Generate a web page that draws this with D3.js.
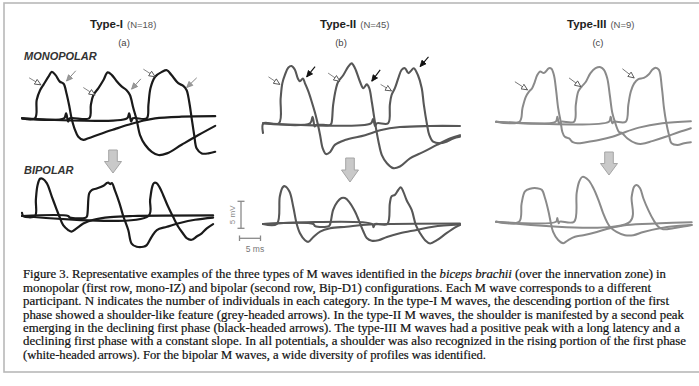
<!DOCTYPE html>
<html>
<head>
<meta charset="utf-8">
<script src="https://cdn.jsdelivr.net/npm/d3@7"></script>
<style>
  html, body { margin: 0; padding: 0; background: #fff; }
  svg { display: block; }
</style>
</head>
<body>
<div id="chart"></div>
<script>
// sweeps: [time ms, amplitude mV]
const typeIMono1 = [[0,0],[3.1,0],[3.5,3.4],[4.3,5.2],[5.1,6.2],[6.3,7.7],[7.1,8.6],[8.0,8.0],[9.0,6.8],[9.9,6.4],[10.6,4.6],[11.3,2.1],[11.8,0],[12.5,-1.9],[13.4,-3.4],[14.6,-4.0],[15.8,-3.7],[19.0,-2.8],[22.1,-2.0],[25.3,-1.2],[28.5,-0.5],[31.7,0],[38.0,0.3],[46.0,0.4]];
const typeIMono2 = [[0,0],[10.0,0],[10.5,0.9],[11.0,-0.6],[11.4,0],[16.0,0],[16.4,2.5],[17.0,4.3],[18.2,5.6],[19.4,7.1],[20.4,8.5],[21.4,8.0],[22.5,6.9],[23.7,5.9],[24.9,5.2],[25.7,4.3],[26.5,1.9],[27.3,-0.3],[28.1,-3.1],[29.3,-4.9],[30.9,-6.2],[32.5,-6.8],[34.5,-6.5],[38.0,-4.9],[42.0,-3.1],[46.0,-1.4]];
const typeIMono3 = [[0,0],[25.0,0],[25.5,0.9],[26.0,-0.6],[26.4,0],[29.7,0],[30.1,2.5],[30.6,5.6],[31.7,7.7],[33.3,8.6],[34.5,8.9],[35.6,8.0],[37.2,6.5],[38.4,6.0],[39.2,5.2],[39.8,3.1],[40.4,0],[41.0,-3.1],[41.6,-5.6],[42.8,-6.5],[44.4,-6.5],[46.0,-6.2]];
const typeIBip1 = [[0,0.6],[0.3,0],[3.1,0],[3.3,3.0],[3.7,5.7],[4.3,6.9],[4.9,6.9],[5.9,6.1],[7.1,3.6],[8.3,1.1],[8.9,-0.1],[9.8,-1.7],[11.0,-2.6],[11.8,-2.9],[13.0,-2.3],[14.6,-1.4],[17.0,-0.7],[21.0,-0.2],[26.4,0],[45.5,0.1]];
const typeIBip2 = [[0,0],[11.0,0],[11.4,-0.3],[15.2,-0.3],[15.5,0],[16.0,4.2],[16.6,4.8],[17.8,5.1],[19.4,5.6],[20.2,6.1],[20.5,6.2],[21.0,5.9],[21.4,6.1],[22.1,4.8],[23.2,2.4],[24.1,0],[25.3,-2.6],[26.1,-5.1],[27.3,-5.7],[28.9,-5.7],[29.7,-5.4],[30.9,-3.8],[32.1,-2.6],[34.5,-2.0],[37.6,-1.3],[41.2,-0.7],[45.5,-0.3]];
const typeIBip3 = [[0,0],[30.1,0],[30.5,3.0],[31.0,5.4],[31.4,6.1],[32.0,6.1],[32.7,5.4],[33.6,3.9],[34.8,1.7],[36.0,-0.2],[37.2,-2.0],[38.3,-3.2],[39.2,-4.1],[40.4,-4.4],[41.6,-3.8],[42.8,-3.2],[44.0,-2.3],[45.5,-1.5]];

const typeIIMono1 = [[0,-1.8],[0.1,0],[3.8,0],[4.2,4.6],[4.6,7.4],[5.2,8.9],[6.0,10.3],[6.8,10.6],[7.6,9.9],[8.3,8.3],[8.8,7.8],[9.5,8.3],[10.0,7.4],[10.8,5.9],[11.6,4.0],[12.4,1.9],[13.0,0],[13.6,-2.2],[14.2,-4.6],[15.0,-5.7],[16.0,-5.3],[17.1,-4.0],[19.5,-3.1],[24.3,-2.2],[27.9,-1.3],[32.6,-0.7],[39.8,-0.5],[46.9,-0.5]];
const typeIIMono2 = [[0,0],[11.2,0],[11.8,1.2],[12.3,-0.6],[12.6,-0.3],[16.0,-0.3],[16.3,0],[16.7,3.4],[17.4,6.5],[17.9,7.7],[19.1,8.9],[20.3,10.5],[21.1,11.1],[21.9,10.2],[23.1,7.7],[23.9,6.5],[24.7,7.2],[25.3,6.5],[25.9,4.0],[26.7,0],[27.5,-3.4],[28.3,-5.9],[29.5,-7.4],[31.0,-8.3],[32.6,-8.0],[35.0,-6.5],[38.2,-5.3],[41.4,-4.0],[44.5,-2.8],[46.9,-2.2]];
const typeIIMono3 = [[0,0],[25.7,0],[26.2,0.8],[26.7,-0.5],[27.1,0],[29.8,0],[30.2,3.4],[30.6,5.2],[31.4,6.5],[32.2,8.3],[33.0,9.9],[33.8,10.2],[34.6,9.3],[35.2,9.7],[35.9,10.2],[36.9,8.9],[37.8,6.5],[38.3,3.4],[39.0,0],[39.6,-2.2],[40.5,-3.4],[42.1,-3.7],[43.7,-3.4],[45.3,-2.8],[46.9,-2.5]];
const typeIIBip1 = [[0,0],[3.3,0],[4.0,5.1],[4.7,6.8],[5.2,7.0],[6.3,6.0],[7.2,3.2],[8.0,0.1],[8.8,-1.7],[10.0,-3.0],[10.8,-3.3],[12.0,-2.4],[13.6,-1.4],[16.0,-0.8],[19.9,-0.5],[25.5,-0.1],[46.9,0.1]];
const typeIIBip2 = [[0,0],[12.0,0],[12.4,-0.4],[15.7,-0.4],[16.0,0],[16.7,2.6],[17.7,4.1],[18.7,4.8],[19.5,4.8],[20.5,4.1],[21.9,2.3],[23.1,0.1],[23.9,-1.4],[24.7,-2.6],[25.9,-3.1],[27.5,-3.0],[29.5,-2.4],[32.6,-1.7],[36.6,-1.1],[40.5,-0.5],[46.9,-0.1]];
const typeIIBip3 = [[0,0],[26.0,0],[26.3,-0.6],[26.7,0],[29.6,0],[30.2,3.8],[30.6,5.1],[31.4,5.4],[32.2,6.3],[32.8,6.8],[33.4,6.0],[34.2,4.4],[35.4,2.6],[36.4,-0.2],[37.4,-1.7],[38.6,-3.0],[39.8,-3.6],[41.4,-3.0],[43.7,-1.7],[46.1,-0.5],[46.9,-0.2]];

const typeIIIMono1 = [[0,0],[5.6,0],[6.3,2.5],[7.1,4.6],[7.9,5.6],[8.6,6.2],[9.2,7.3],[9.8,8.6],[10.5,9.3],[11.4,9.0],[12.6,9.9],[13.2,9.8],[13.8,8.6],[14.3,5.9],[14.8,2.5],[15.4,0],[15.8,-1.9],[16.4,-2.8],[17.4,-3.1],[18.3,-3.8],[19.4,-4.0],[21.4,-3.8],[24.5,-3.4],[27.7,-2.8],[30.1,-2.1],[34.0,-1.1],[39.6,-0.3],[46.4,0.1]];
const typeIIIMono2 = [[0,0],[14.2,0],[14.6,0.9],[15.0,-0.3],[15.5,0],[18.6,0],[19.0,3.1],[19.6,5.6],[20.4,6.5],[21.4,7.4],[22.5,9.0],[23.7,9.9],[24.9,10.1],[25.7,9.6],[26.5,8.0],[27.1,4.9],[27.7,1.6],[28.3,0],[29.3,-1.9],[30.0,-2.1],[31.3,-3.1],[33.3,-4.0],[34.8,-4.1],[37.2,-3.6],[40.4,-2.8],[43.6,-1.9],[46.4,-1.2]];
const typeIIIMono3 = [[0,0],[26.9,0],[27.3,0.9],[27.7,-0.3],[28.1,0],[30.9,0],[31.5,3.1],[32.1,5.6],[32.9,7.1],[33.9,7.9],[35.2,8.1],[36.4,8.8],[37.2,9.6],[38.0,10.0],[38.8,9.6],[39.5,6.2],[40.0,2.5],[40.5,0],[41.2,-2.5],[41.8,-4.0],[43.2,-4.3],[44.8,-4.0],[46.4,-3.8]];
const typeIIIBip1 = [[0,0],[5.5,0],[6.1,3.4],[6.9,5.6],[8.1,6.1],[9.7,6.2],[10.9,5.9],[11.7,4.3],[12.5,1.9],[13.0,0],[13.6,-1.9],[14.8,-3.4],[16.0,-4.0],[17.2,-3.4],[18.8,-2.8],[20.8,-2.5],[24.0,-1.9],[27.1,-1.2],[31.1,-0.6],[39.0,-0.3],[46.6,-0.1]];
const typeIIIBip2 = [[0,0],[14.3,0],[14.6,0.7],[14.9,-0.3],[15.2,0],[18.6,0],[19.2,5.3],[19.8,7.4],[20.6,8.3],[22.0,7.7],[23.2,6.2],[24.4,4.0],[25.5,1.6],[26.4,0],[27.1,-0.9],[28.7,-1.9],[30.7,-2.5],[32.7,-2.5],[35.1,-1.9],[39.0,-1.2],[43.0,-0.8],[46.6,-0.6]];
const typeIIIBip3 = [[0,0],[31.9,0],[32.3,4.6],[32.9,6.5],[33.5,6.8],[34.3,6.2],[35.1,4.3],[36.3,2.1],[37.5,0.3],[38.6,-0.9],[39.8,-1.4],[42.2,-1.2],[44.6,-0.9],[46.6,-0.6]];

// feature arrows: [tail ms, tail mV, tip ms, tip mV]
const typeIWhiteArrows = [[1.7,7.5,4.5,6.2],[14.6,5.7,17.4,4.3],[28.9,9.1,31.7,7.7]];
const typeIGreyArrows = [[12.8,8.8,10.6,6.9],[28.3,7.3,26.1,5.4],[41.6,7.5,39.2,5.7]];
const typeIIWhiteArrows = [[1.3,8.6,4.0,7.2],[15.5,9.3,18.3,7.8],[28.0,7.2,30.6,6.0]];
const typeIIBlackArrows = [[12.4,10.5,10.4,8.6],[27.9,9.9,25.9,7.8],[39.4,12.3,37.4,10.5]];
const typeIIIWhiteArrows = [[4.5,7.4,7.5,5.9],[17.4,8.1,20.2,6.5],[30.1,9.8,32.9,8.1]];

const typeNames = ["Type-I", "Type-II", "Type-III"];
const typeCounts = ["(N=18)", "(N=45)", "(N=9)"];
const panelLetters = ["(a)", "(b)", "(c)"];
const scaleBarMs = 5;
const scaleBarMv = 5;

const captionLines = [
  [["Figure 3. Representative examples of the three types of M waves identified in the ", false], ["biceps brachii", true], [" (over the innervation zone) in", false]],
  [["monopolar (first row, mono-IZ) and bipolar (second row, Bip-D1) configurations. Each M wave corresponds to a different", false]],
  [["participant. N indicates the number of individuals in each category. In the type-I M waves, the descending portion of the first", false]],
  [["phase showed a shoulder-like feature (grey-headed arrows). In the type-II M waves, the shoulder is manifested by a second peak", false]],
  [["emerging in the declining first phase (black-headed arrows). The type-III M waves had a positive peak with a long latency and a", false]],
  [["declining first phase with a constant slope. In all potentials, a shoulder was also recognized in the rising portion of the first phase", false]],
  [["(white-headed arrows). For the bipolar M waves, a wide diversity of profiles was identified.", false]]
];
const captionWidths = [643, 628, 646, 661, 657, 663, 463];

const W = 699, H = 386;
const msPx = 4.2, mvPx = 5.4;

const panels = [
  { x0: 22, monoY: 118.3, bipY: 216, color: "#1a1a1a", sw: 2.2,
    mono: [typeIMono1, typeIMono2, typeIMono3], bip: [typeIBip1, typeIBip2, typeIBip3],
    arrows: [{ data: typeIWhiteArrows, head: "white" }, { data: typeIGreyArrows, head: "grey" }],
    titleX: 90, letterX: 124, block: { x: 113, top: 150, bottom: 173 } },
  { x0: 263, monoY: 123.3, bipY: 224, color: "#575757", sw: 2.1,
    mono: [typeIIMono1, typeIIMono2, typeIIMono3], bip: [typeIIBip1, typeIIBip2, typeIIBip3],
    arrows: [{ data: typeIIWhiteArrows, head: "white" }, { data: typeIIBlackArrows, head: "black" }],
    titleX: 320, letterX: 341, block: { x: 350, top: 158, bottom: 182 } },
  { x0: 496, monoY: 121.7, bipY: 221.7, color: "#8a8a8a", sw: 2,
    mono: [typeIIIMono1, typeIIIMono2, typeIIIMono3], bip: [typeIIIBip1, typeIIIBip2, typeIIIBip3],
    arrows: [{ data: typeIIIWhiteArrows, head: "white" }],
    titleX: 567, letterX: 598, block: { x: 609, top: 152, bottom: 175 } }
];

const svg = d3.select("#chart").append("svg")
   .attr("width", W)
   .attr("height", H);

svg.append("rect")
   .attr("x", 4).attr("y", 3)
   .attr("width", W).attr("height", 369)
   .attr("fill", "#fff")
   .attr("stroke", "#b8b8b8")
   .attr("stroke-width", 1.6);

// arrow heads
const heads = { white: ["#fff", "#444"], grey: ["#9a9a9a", "#8a8a8a"], black: ["#111", "#111"] };
const defs = svg.append("defs");
Object.keys(heads).forEach(k => {
   defs.append("marker")
      .attr("id", "head-" + k)
      .attr("markerUnits", "userSpaceOnUse")
      .attr("markerWidth", 8).attr("markerHeight", 7)
      .attr("refX", 6.5).attr("refY", 3.5)
      .attr("orient", "auto")
      .append("path")
      .attr("d", "M0.5,0.8 L6.5,3.5 L0.5,6.2 Z")
      .attr("fill", heads[k][0])
      .attr("stroke", heads[k][1])
      .attr("stroke-width", 0.8);
});

const sans = "'Liberation Sans', Arial, sans-serif";

panels.forEach((p, i) => {
   const x = d3.scaleLinear().domain([0, 50]).range([p.x0, p.x0 + 50 * msPx]);
   const yMono = d3.scaleLinear().domain([-10, 14]).range([p.monoY + 10 * mvPx, p.monoY - 14 * mvPx]);
   const yBip = d3.scaleLinear().domain([-10, 14]).range([p.bipY + 10 * mvPx, p.bipY - 14 * mvPx]);

   const g = svg.append("g");

   const title = g.append("text")
      .attr("x", p.titleX).attr("y", 28)
      .attr("font-family", sans)
      .attr("fill", "#222");
   title.append("tspan").attr("font-weight", "bold").attr("font-size", 11.5).text(typeNames[i]);
   title.append("tspan").attr("dx", 4).attr("font-size", 9.5).attr("fill", "#555").text(typeCounts[i]);

   g.append("text")
      .attr("x", p.letterX).attr("y", 46)
      .attr("text-anchor", "middle")
      .attr("font-family", sans).attr("font-size", 9.5)
      .attr("fill", "#444")
      .text(panelLetters[i]);

   [[p.mono, yMono], [p.bip, yBip]].forEach(([waves, y]) => {
      const line = d3.line()
         .x(d => x(d[0]))
         .y(d => y(d[1]))
         .curve(d3.curveCatmullRom.alpha(0.5));
      g.append("g").selectAll("path")
         .data(waves)
         .join("path")
         .attr("d", line)
         .attr("fill", "none")
         .attr("stroke", p.color)
         .attr("stroke-width", p.sw)
         .attr("stroke-linejoin", "round")
         .attr("stroke-linecap", "round");
   });

   p.arrows.forEach(a => {
      g.append("g").selectAll("line")
         .data(a.data)
         .join("line")
         .attr("x1", d => x(d[0])).attr("y1", d => yMono(d[1]))
         .attr("x2", d => x(d[2])).attr("y2", d => yMono(d[3]))
         .attr("stroke", a.head === "black" ? "#111" : (i === 2 ? "#666" : "#777"))
         .attr("stroke-width", a.head === "black" ? 1.1 : 0.9)
         .attr("marker-end", "url(#head-" + a.head + ")");
   });

   // grey block arrow between rows
   const b = p.block, sh = 4.3, hw = 8.5, mid = b.top + (b.bottom - b.top) * 0.5;
   g.append("path")
      .attr("d", `M${b.x - sh},${b.top} L${b.x + sh},${b.top} L${b.x + sh},${mid} L${b.x + hw},${mid} L${b.x},${b.bottom} L${b.x - hw},${mid} L${b.x - sh},${mid} Z`)
      .attr("fill", "#c9c9c9")
      .attr("stroke", "#a5a5a5")
      .attr("stroke-width", 1);
});

// row labels
svg.append("text")
   .attr("x", 24).attr("y", 60)
   .attr("font-family", sans).attr("font-size", 11)
   .attr("font-weight", "bold").attr("font-style", "italic")
   .attr("fill", "#333")
   .text("MONOPOLAR");
svg.append("text")
   .attr("x", 24).attr("y", 174)
   .attr("font-family", sans).attr("font-size", 11)
   .attr("font-weight", "bold").attr("font-style", "italic")
   .attr("fill", "#333")
   .text("BIPOLAR");

// calibration bars
const sx = d3.scaleLinear().domain([0, scaleBarMs]).range([239.5, 239.5 + scaleBarMs * msPx]);
const sy = d3.scaleLinear().domain([0, scaleBarMv]).range([228.3, 228.3 - scaleBarMv * mvPx]);
const cal = svg.append("g").attr("stroke", "#8a8a8a").attr("stroke-width", 1.3).attr("fill", "none");
cal.append("line").attr("x1", 241).attr("x2", 241).attr("y1", sy(0)).attr("y2", sy(scaleBarMv));
cal.append("line").attr("x1", 237.5).attr("x2", 244.5).attr("y1", sy(0)).attr("y2", sy(0));
cal.append("line").attr("x1", 237.5).attr("x2", 244.5).attr("y1", sy(scaleBarMv)).attr("y2", sy(scaleBarMv));
cal.append("line").attr("x1", sx(0)).attr("x2", sx(scaleBarMs)).attr("y1", 238.3).attr("y2", 238.3);
cal.append("line").attr("x1", sx(0)).attr("x2", sx(0)).attr("y1", 235.5).attr("y2", 241);
cal.append("line").attr("x1", sx(scaleBarMs)).attr("x2", sx(scaleBarMs)).attr("y1", 235.5).attr("y2", 241);
svg.append("text")
   .attr("transform", "translate(234.5," + sy(scaleBarMv / 2) + ") rotate(-90)")
   .attr("text-anchor", "middle")
   .attr("font-family", sans).attr("font-size", 8)
   .attr("fill", "#888")
   .text(scaleBarMv + " mV");
svg.append("text")
   .attr("x", 255).attr("y", 252)
   .attr("text-anchor", "middle")
   .attr("font-family", sans).attr("font-size", 8.5)
   .attr("fill", "#777")
   .text(scaleBarMs + " ms");

// caption
const cap = svg.append("g")
   .attr("font-family", "'Liberation Serif', 'DejaVu Serif', serif")
   .attr("font-size", 12)
   .attr("fill", "#111")
   .attr("stroke", "#111")
   .attr("stroke-width", 0.2);
captionLines.forEach((parts, i) => {
   const t = cap.append("text")
      .attr("x", 23)
      .attr("y", 278.3 + i * 13.4)
      .attr("textLength", captionWidths[i])
      .attr("lengthAdjust", "spacingAndGlyphs");
   parts.forEach(([s, it]) => {
      t.append("tspan").attr("font-style", it ? "italic" : "normal").text(s);
   });
});
</script>
</body>
</html>
